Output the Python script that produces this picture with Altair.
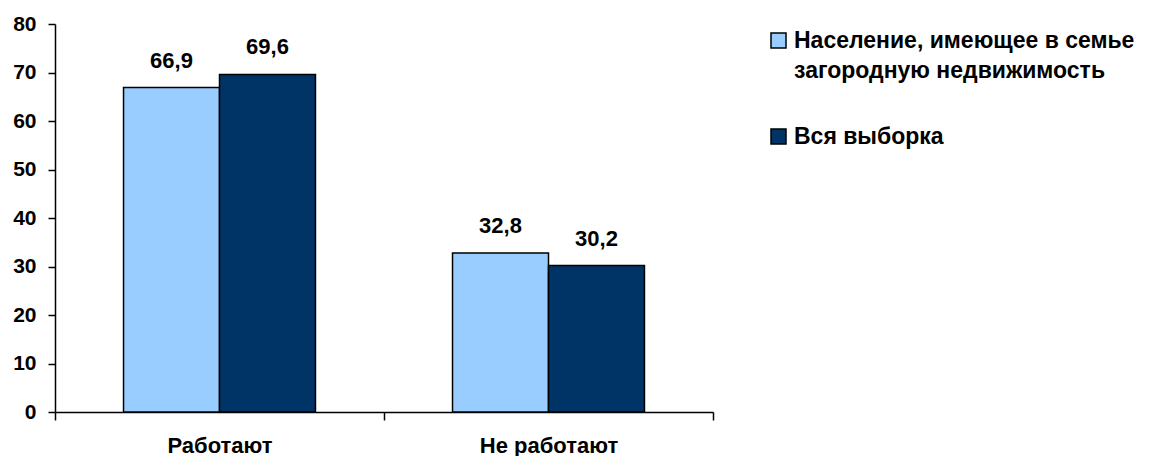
import altair as alt
import pandas as pd

categories = ["Работают", "Не работают"]
series = ["Население, имеющее в семье|загородную недвижимость", "Вся выборка"]
values_owners = [66.9, 32.8]
values_all = [69.6, 30.2]
colors = ["#99CCFF", "#003366"]

rows = []
for i, c in enumerate(categories):
    rows.append({"cat": c, "series": series[0], "value": values_owners[i]})
    rows.append({"cat": c, "series": series[1], "value": values_all[i]})
df = pd.DataFrame(rows)

FONT = "Liberation Sans"

x = alt.X("cat:N", sort=categories, title=None,
          scale=alt.Scale(paddingInner=0, paddingOuter=0),
          axis=alt.Axis(labelAngle=0, tickBand="extent", labelFontSize=22,
                        labelFont=FONT, labelFontWeight="bold", labelColor="black",
                        tickSize=8, tickColor="black", tickWidth=1.5,
                        domainColor="black", domainWidth=1.5, labelPadding=15))
xo = alt.XOffset("series:N", sort=series,
                 scale=alt.Scale(paddingInner=0, paddingOuter=0.714))

base = alt.Chart(df).encode(x=x, xOffset=xo)

bars = base.mark_bar(stroke="black", strokeWidth=1.5).encode(
    y=alt.Y("value:Q", title=None,
            scale=alt.Scale(domain=[0, 80], nice=False),
            axis=alt.Axis(values=list(range(0, 81, 10)), grid=False,
                          labelFontSize=21, labelFont=FONT, labelFontWeight="bold",
                          labelColor="black", tickSize=7, tickColor="black",
                          tickWidth=1.5, domainColor="black", domainWidth=1.5,
                          labelPadding=12)),
    color=alt.Color("series:N", sort=series,
                    scale=alt.Scale(domain=series, range=colors),
                    legend=alt.Legend(title=None, orient="none", legendX=712, legendY=5,
                                      labelExpr="split(datum.label, '|')",
                                      labelFont=FONT, labelFontSize=23,
                                      labelFontWeight="bold", labelColor="black",
                                      labelBaseline="middle",
                                      symbolType="square", symbolSize=225,
                                      symbolStrokeColor="black", symbolStrokeWidth=1.5,
                                      rowPadding=42, labelOffset=4,
                                      labelLimit=430)),
)

labels = base.transform_calculate(
    lbl="replace(format(datum.value, '.1f'), '.', ',')"
).mark_text(dy=-27, font=FONT, fontSize=22, fontWeight="bold", color="black").encode(
    y="value:Q", text="lbl:N"
)

chart = (bars + labels).properties(
    width=658, height=388,
    autosize=alt.AutoSizeParams(type="none"),
    padding={"left": 47, "top": 16, "right": 430, "bottom": 44},
).configure(
    style={"guide-label": {"lineHeight": 30}}
).configure_view(stroke=None)

chart.save("out.html", embed_options={"renderer": "svg", "actions": False})
